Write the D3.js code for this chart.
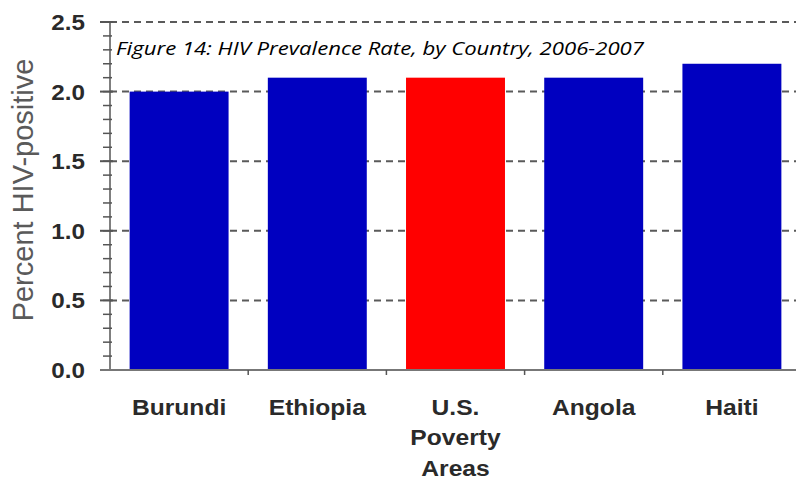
<!DOCTYPE html>
<html>
<head>
	<title></title>
	<style>
		body { margin: 0; background: #fff; }
		text { font-family: Arial, "Liberation Sans", sans-serif; }
	</style>
</head>
<body>

<svg id="chart" width="796" height="480"></svg>

<script src="https://d3js.org/d3.v7.min.js"></script>
<script>
	// Chart data
	const countries = ['Burundi', 'Ethiopia', 'U.S. Poverty Areas', 'Angola', 'Haiti']
	const prevalence = [2.0, 2.1, 2.1, 2.1, 2.2]
	const barColors = ['#0000c0', '#0000c0', '#ff0000', '#0000c0', '#0000c0']
	const yTicks = [0, 0.5, 1.0, 1.5, 2.0, 2.5]
	// labels split over lines
	const xLabelLines = [['Burundi'], ['Ethiopia'], ['U.S.', 'Poverty', 'Areas'], ['Angola'], ['Haiti']]

	const svg = d3.select('#chart')
	const plotLeft = 110, plotRight = 801, plotTop = 22, plotBottom = 370

	const x = d3.scaleBand()
		.domain(countries)
		.range([plotLeft, plotRight])
		.paddingInner(0.284)
		.paddingOuter(0.142)

	const y = d3.scaleLinear()
		.domain([0, 2.5])
		.range([plotBottom, plotTop])

	// dashed grid lines
	svg.append('g')
		.selectAll('line')
		.data(yTicks.filter(d => d > 0))
		.enter()
		.append('line')
		.attr('x1', plotLeft)
		.attr('x2', 796)
		.attr('y1', d => y(d))
		.attr('y2', d => y(d))
		.attr('stroke', '#5a5a5a')
		.attr('stroke-width', 2)
		.attr('stroke-dasharray', '7,5')

	// bars
	svg.append('g')
		.selectAll('rect')
		.data(prevalence)
		.enter()
		.append('rect')
		.attr('x', (d, i) => x(countries[i]))
		.attr('width', x.bandwidth())
		.attr('y', d => y(d))
		.attr('height', d => plotBottom - y(d))
		.attr('fill', (d, i) => barColors[i])

	// y axis with minor ticks
	const yAxis = svg.append('g')
	yAxis.append('line')
		.attr('x1', plotLeft).attr('x2', plotLeft)
		.attr('y1', y(2.5)).attr('y2', plotBottom)
		.attr('stroke', '#555').attr('stroke-width', 1.5)
	yAxis.selectAll('.minor')
		.data(d3.range(0, 26).map(i => i / 10))
		.enter()
		.append('line')
		.attr('x1', plotLeft - 7)
		.attr('x2', plotLeft + 2)
		.attr('y1', d => y(d))
		.attr('y2', d => y(d))
		.attr('stroke', '#555')
		.attr('stroke-width', 1.5)
	yAxis.selectAll('.major')
		.data(yTicks)
		.enter()
		.append('line')
		.attr('x1', plotLeft - 10)
		.attr('x2', plotLeft + 3)
		.attr('y1', d => y(d))
		.attr('y2', d => y(d))
		.attr('stroke', '#555')
		.attr('stroke-width', 2)
	// tick labels look a bit stretched sideways in the original
	yAxis.selectAll('text')
		.data(yTicks)
		.enter()
		.append('text')
		.text(d => d.toFixed(1))
		.attr('transform', d => `translate(85, ${y(d) + 8}) scale(1.1, 1)`)
		.attr('text-anchor', 'end')
		.attr('font-size', 22)
		.attr('font-weight', 'bold')
		.attr('fill', '#2a2a2a')

	// x axis
	const xAxis = svg.append('g')
	xAxis.append('line')
		.attr('x1', 100).attr('x2', 796)
		.attr('y1', plotBottom).attr('y2', plotBottom)
		.attr('stroke', '#777').attr('stroke-width', 2)
	xAxis.selectAll('.tick')
		.data(countries.slice(1))
		.enter()
		.append('line')
		.attr('x1', d => x(d) - x.step() * x.paddingInner() / 2)
		.attr('x2', d => x(d) - x.step() * x.paddingInner() / 2)
		.attr('y1', plotBottom)
		.attr('y2', plotBottom + 5)
		.attr('stroke', '#555')
		.attr('stroke-width', 1.5)

	const labels = xAxis.selectAll('text')
		.data(xLabelLines)
		.enter()
		.append('text')
		.attr('transform', (d, i) => `translate(${x(countries[i]) + x.bandwidth() / 2}, 0) scale(1.12, 1)`)
		.attr('text-anchor', 'middle')
		.attr('font-size', 22)
		.attr('font-weight', 'bold')
		.attr('fill', '#2a2a2a')
	labels.selectAll('tspan')
		.data(d => d)
		.enter()
		.append('tspan')
		.attr('x', 0)
		.attr('y', (d, j) => 415 + j * 30.5)
		.text(d => d)

	// y axis title
	svg.append('text')
		.text('Percent HIV-positive')
		.attr('transform', 'translate(33, 190) rotate(-90)')
		.attr('text-anchor', 'middle')
		.attr('font-size', 29)
		.attr('fill', '#5a5a5a')

	// figure caption
	svg.append('text')
		.text('Figure 14: HIV Prevalence Rate, by Country, 2006-2007')
		.attr('x', 116)
		.attr('y', 55)
		.attr('font-size', 19)
		.attr('font-style', 'italic')
		.attr('textLength', 528)
		.attr('lengthAdjust', 'spacingAndGlyphs')
		.style('font-family', '"Open Sans", sans-serif')
		.attr('fill', '#000')
</script>
</body>
</html>
